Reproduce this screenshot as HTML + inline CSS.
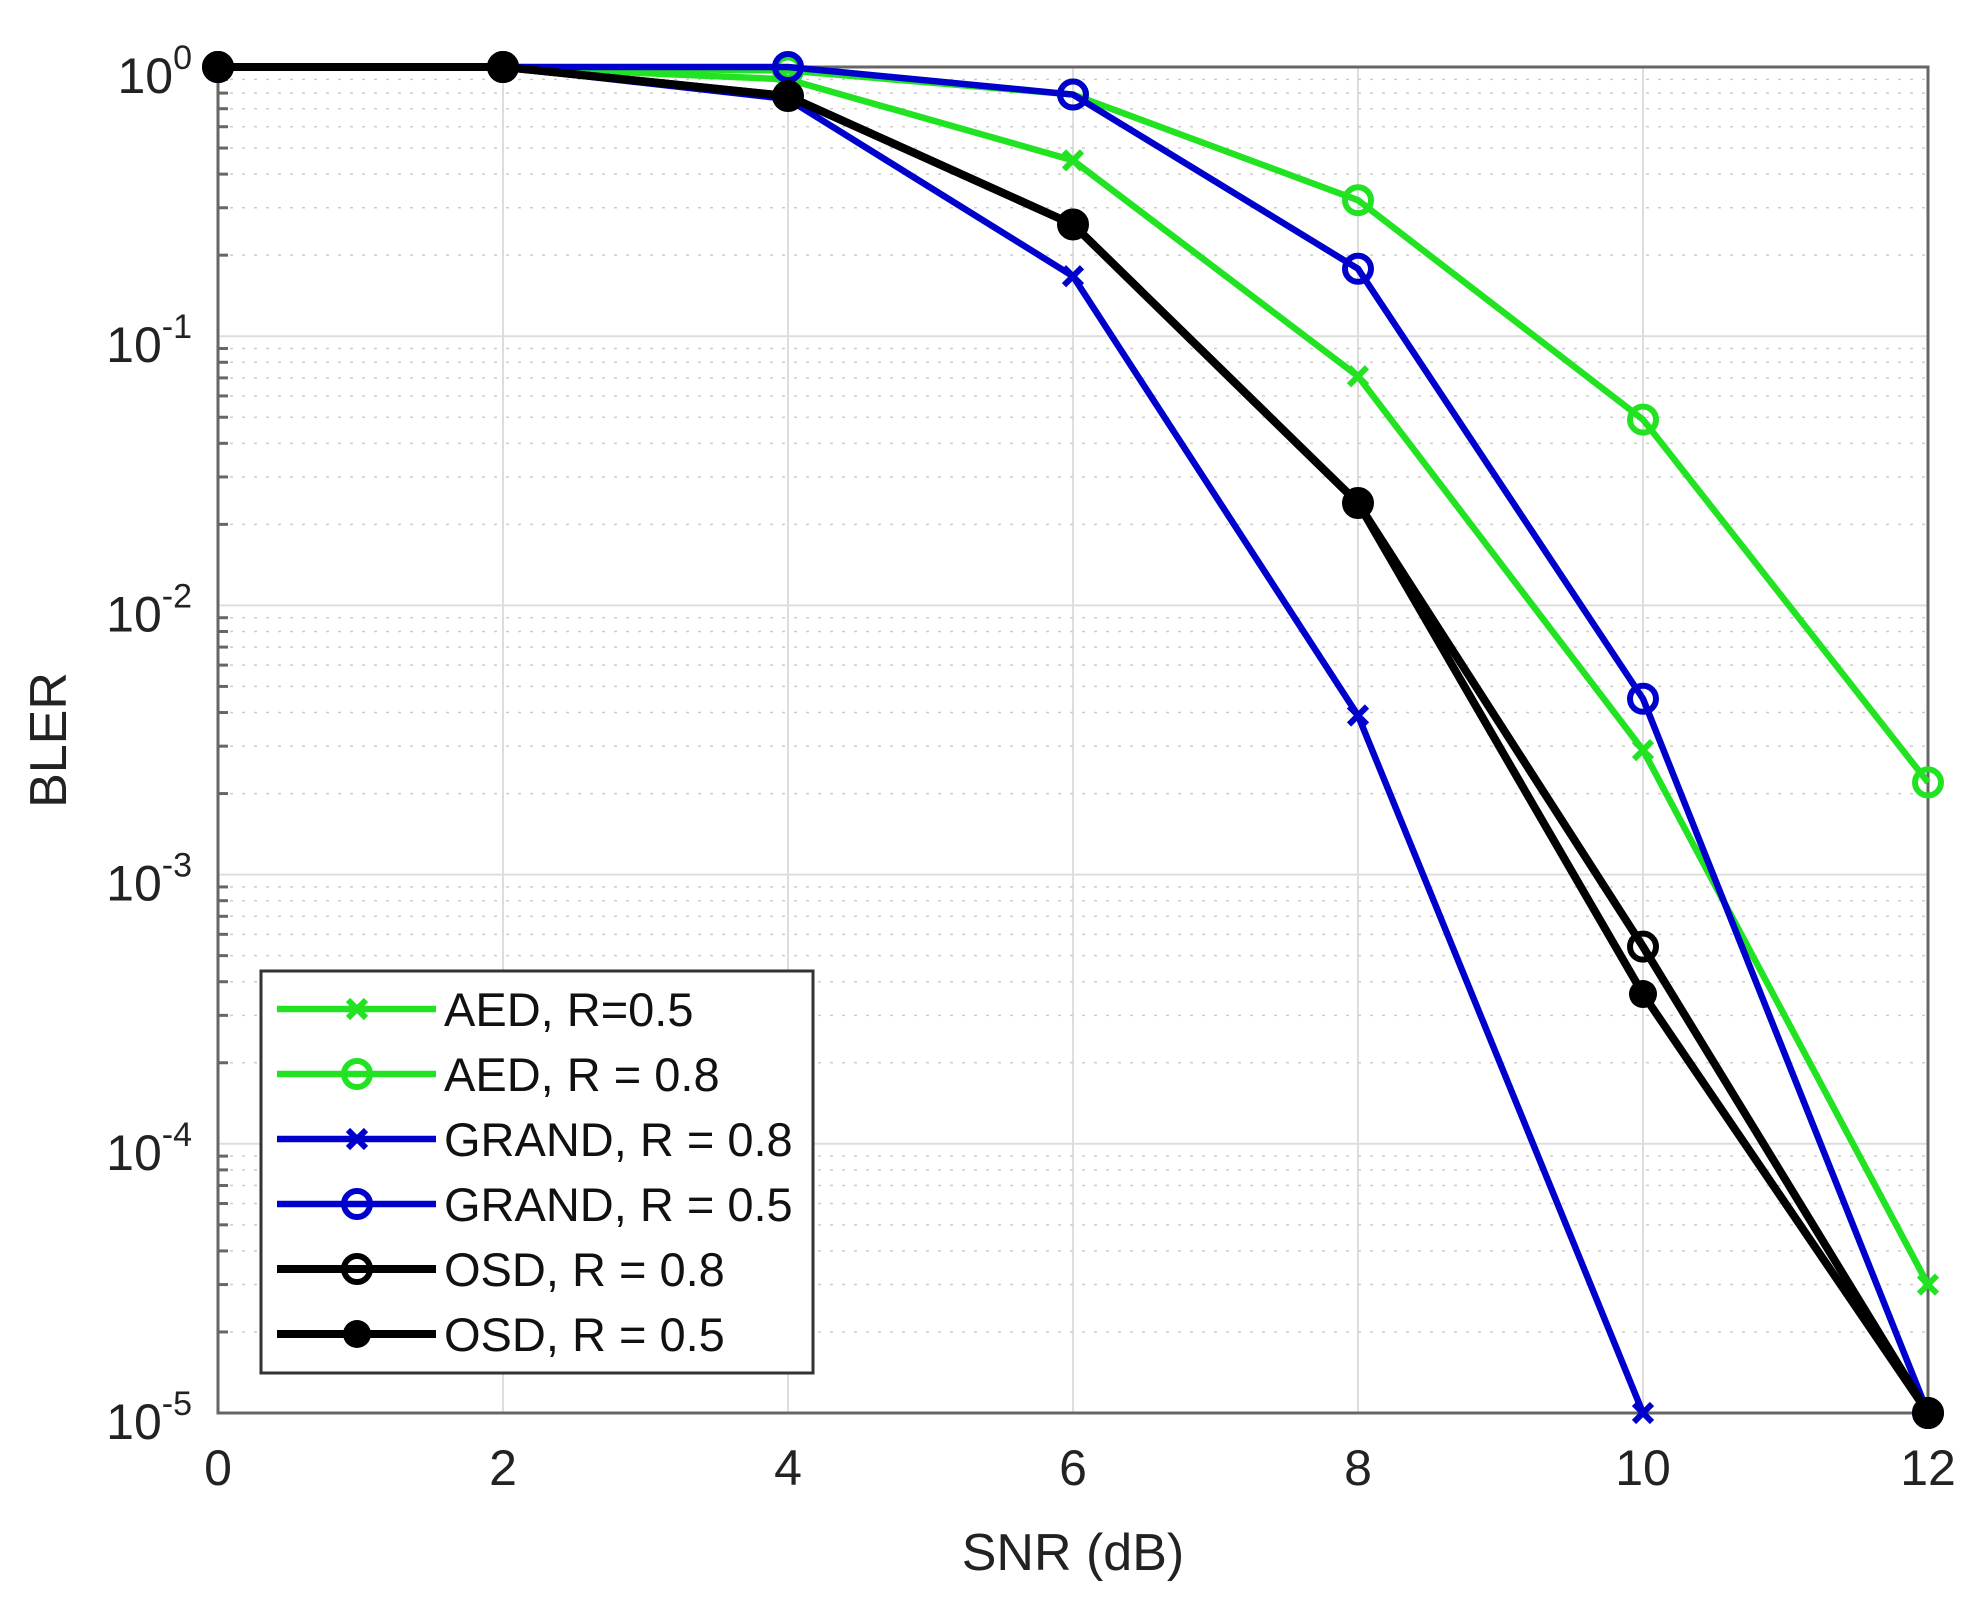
<!DOCTYPE html>
<html><head><meta charset="utf-8"><style>
html,body{margin:0;padding:0;background:#fff;}
svg{display:block;font-family:"Liberation Sans",Arial,sans-serif;}
</style></head><body>
<svg id="chart" width="1977" height="1602" viewBox="0 0 1977 1602">
<g id="grid"></g>
<rect x="218" y="67" width="1710" height="1346" fill="none" stroke="#666" stroke-width="3"/>
<g id="ticks"></g>
<g id="series"></g>
<text x="1073" y="1570" font-size="52" text-anchor="middle" fill="#222">SNR (dB)</text>
<text transform="translate(66,740) rotate(-90)" font-size="52" text-anchor="middle" fill="#222">BLER</text>
<g id="legend"></g>
</svg>
<script>
const snr = [0, 2, 4, 6, 8, 10, 12];
const aed05 = [1, 1, 0.9, 0.45, 0.071, 0.0029, 3e-5];
const aed08 = [1, 1, 0.97, 0.79, 0.32, 0.049, 0.0022];
const grand08 = [1, 1, 0.76, 0.167, 0.0039, 1e-5];
const grand05 = [1, 1, 1, 0.79, 0.178, 0.0045, 1e-5];
const osd08 = [1, 1, 0.78, 0.26, 0.024, 0.00054, 1e-5];
const osd05 = [1, 1, 0.78, 0.26, 0.024, 0.00036, 1e-5];
const xTicks = [0, 2, 4, 6, 8, 10, 12];
const yExps = [0, -1, -2, -3, -4, -5];
const legendLabels = ["AED, R=0.5", "AED, R = 0.8", "GRAND, R = 0.8", "GRAND, R = 0.5", "OSD, R = 0.8", "OSD, R = 0.5"];

const NS = "http://www.w3.org/2000/svg";
const X0 = 218, X1 = 1928, Y0 = 67, Y1 = 1413;
const xs = v => X0 + (v - 0) / 12 * (X1 - X0);
const ys = v => Y0 + (0 - Math.log10(v)) / 5 * (Y1 - Y0);
function mk(tag, attrs, parent) { const e = document.createElementNS(NS, tag); for (const k in attrs) e.setAttribute(k, attrs[k]); parent.appendChild(e); return e; }

const grid = document.getElementById('grid');
const ticks = document.getElementById('ticks');
xTicks.forEach(t => {
  const l = mk('line', {x1: xs(t), x2: xs(t), y1: Y0, y2: Y1, stroke: '#ddd', 'stroke-width': 2}, grid);
  
  
  const tx = mk('text', {x: xs(t), y: Y1 + 72, 'font-size': 50, 'text-anchor': 'middle', fill: '#222'}, ticks);
  tx.textContent = t;
  
  
});
yExps.forEach(e => {
  const v = Math.pow(10, e);
  const l = mk('line', {x1: X0, x2: X1, y1: ys(v), y2: ys(v), stroke: '#ddd', 'stroke-width': 2}, grid);
  
  
  const tx = mk('text', {x: X0 - 26, y: ys(v) + 26, 'font-size': 50, 'text-anchor': 'end', fill: '#222'}, ticks);
  tx.textContent = '10';
  const sp = mk('tspan', {dy: -24, 'font-size': 34}, tx);
  sp.textContent = String(e);
  
  
  if (e > -5) {
    for (let m = 2; m <= 9; m++) {
      const yy = ys(v / 10 * m);
      const ml = mk('line', {x1: X0, x2: X1, y1: yy, y2: yy, stroke: '#ccc', 'stroke-width': 1.5, 'stroke-dasharray': '3 9'}, grid);
      
      
      const tk = mk('line', {x1: X0, x2: X0 + 10, y1: yy, y2: yy, stroke: '#666', 'stroke-width': 3}, ticks);
      
      
    }
  }
});

const GREEN = '#22e322', BLUE = '#0000cc', BLACK = '#000';
const seriesDefs = [
  {d: aed05, c: GREEN, m: 'x', name: 'aed-r05'},
  {d: aed08, c: GREEN, m: 'o', name: 'aed-r08'},
  {d: grand08, c: BLUE, m: 'x', name: 'grand-r08'},
  {d: grand05, c: BLUE, m: 'o', name: 'grand-r05'},
  {d: osd08, c: BLACK, m: 'o', name: 'osd-r08'},
  {d: osd05, c: BLACK, m: 'f', name: 'osd-r05'}
];
function marker(g, type, x, y, c) {
  let e;
  if (type === 'o') e = mk('circle', {cx: x, cy: y, r: 13, fill: 'none', stroke: c, 'stroke-width': 6}, g);
  else if (type === 'f') e = mk('circle', {cx: x, cy: y, r: 14, fill: c}, g);
  else e = mk('path', {d: `M${x-9},${y-9}L${x+9},${y+9}M${x-9},${y+9}L${x+9},${y-9}`, stroke: c, 'stroke-width': 6}, g);
  
  
}
const sg = document.getElementById('series');
seriesDefs.forEach(s => {
  const g = mk('g', {}, sg);
  
  
  const pts = s.d.map((v, i) => xs(snr[i]) + ',' + ys(v)).join(' ');
  const pl = mk('polyline', {points: pts, fill: 'none', stroke: s.c, 'stroke-width': s.c === BLACK ? 8 : 6.5, 'stroke-linejoin': 'round'}, g);
  
  
  s.d.forEach((v, i) => marker(g, s.m, xs(snr[i]), ys(v), s.c));
});

const lg = document.getElementById('legend');
const box = mk('rect', {x: 261, y: 971, width: 552, height: 402, fill: '#fff', stroke: '#333', 'stroke-width': 3}, lg);


legendLabels.forEach((lab, i) => {
  const y = 1009 + i * 65;
  const s = seriesDefs[i];
  const g = mk('g', {}, lg);
  
  
  mk('line', {x1: 277, x2: 436, y1: y, y2: y, stroke: s.c, 'stroke-width': s.c === BLACK ? 8 : 6.5}, g);
  marker(g, s.m, 357, y, s.c);
  const t = mk('text', {x: 444, y: y + 17, 'font-size': 47, fill: '#111'}, g);
  t.textContent = lab;
  
  
});
</script>
</body></html>
